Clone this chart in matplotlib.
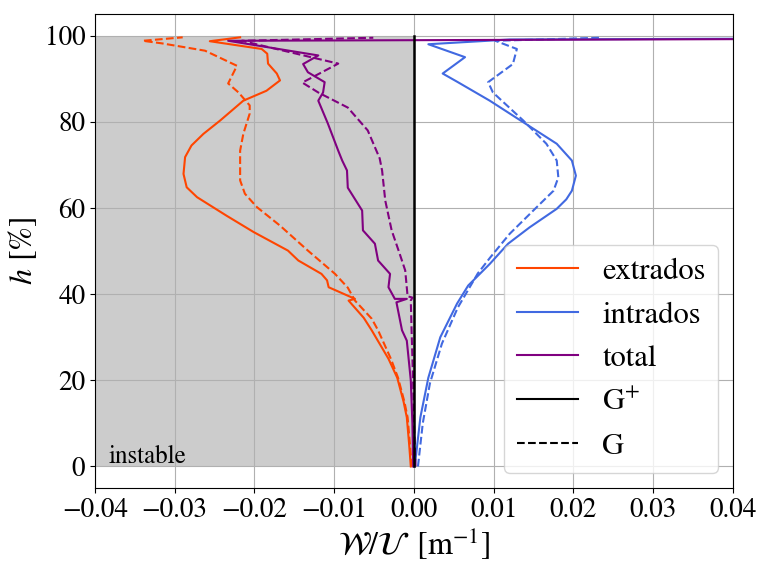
import matplotlib
matplotlib.use("Agg")
import matplotlib.pyplot as plt
from matplotlib.lines import Line2D

plt.rcParams['font.family'] = ['STIXGeneral', 'DejaVu Serif']
plt.rcParams['mathtext.fontset'] = 'stix'

# extrados, G+ (solid)
ext_gp_h = [0, 5, 11.4, 15, 20.6, 25, 31.6, 34.5, 38.5, 38.9, 41.6, 43.2, 44.7, 47.8, 50.1, 51.7, 54.4,
            58.2, 62.5, 64.8, 67.9, 71.8, 74.5, 77.2, 80.3, 84.9, 87.2, 89.6, 91.2, 93.5, 95.8, 96.9,
            98.7, 99.6]
ext_gp_x = [-0.0004, -0.0006, -0.0009, -0.0013, -0.0021, -0.0032, -0.0053, -0.0063, -0.0082, -0.0074,
            -0.0107, -0.0109, -0.0116, -0.0145, -0.0158, -0.0174, -0.0201, -0.0235, -0.0272, -0.0285,
            -0.0289, -0.0287, -0.0279, -0.0264, -0.0243, -0.0214, -0.0185, -0.0168, -0.0172, -0.0183,
            -0.0184, -0.0191, -0.0256, -0.0218]
# extrados, G (dashed)
ext_g_h = [0, 5, 11.4, 15, 20.6, 25, 31.6, 34.3, 38.5, 41.5, 44.7, 50.1, 55.9, 60.2, 63.3, 66.4, 73.3,
           77.2, 81.9, 83.8, 86.8, 88.9, 93.0, 96.5, 98.2, 98.8, 99.6]
ext_g_x = [-0.0003, -0.0005, -0.0008, -0.0012, -0.0020, -0.0029, -0.0045, -0.0053, -0.0074, -0.0083,
           -0.0099, -0.0133, -0.0168, -0.0197, -0.0212, -0.0218, -0.0218, -0.0214, -0.0206, -0.0206,
           -0.0220, -0.0233, -0.0222, -0.0262, -0.0316, -0.0340, -0.0290]
# intrados, G+ (solid)
int_gp_h = [0, 11.4, 20.6, 30.0, 37.8, 42, 47.0, 51.7, 55.5, 59.8, 62.0, 64.0, 67.5, 71.0, 74.9, 79.9,
            84.9, 89.2, 91.2, 95.0, 98.0, 99.1, 99.4]
int_gp_x = [0.0001, 0.0008, 0.0018, 0.0033, 0.0054, 0.0068, 0.0095, 0.0118, 0.0145, 0.0179, 0.0191,
            0.0198, 0.0203, 0.0198, 0.0179, 0.0137, 0.0095, 0.0055, 0.0036, 0.0064, 0.0018, 0.0120, 0.0600]
# intrados, G (dashed)
int_g_h = [0, 10, 19.3, 28.5, 36.9, 44.8, 48.6, 54.0, 60.2, 64.0, 67.1, 71.0, 74.9, 80.3, 86.8, 89.2,
           93.4, 96.9, 98.8, 99.5]
int_g_x = [0.0005, 0.0011, 0.0020, 0.0035, 0.0055, 0.0080, 0.0096, 0.0120, 0.0154, 0.0175, 0.0181,
           0.0179, 0.0166, 0.0137, 0.0099, 0.0093, 0.0124, 0.0129, 0.0102, 0.0233]
# total, G+ (solid)
tot_gp_h = [0, 10, 20, 29.2, 31.6, 38.1, 38.9, 38.9, 41.6, 44.7, 47.8, 51.7, 54.8, 59.4, 64.7, 68.7,
            71.0, 73.3, 79.6, 84.9, 86.8, 89.2, 91.5, 93.4, 95.4, 98.8, 99.3]
tot_gp_x = [-0.0001, -0.0002, -0.0004, -0.0009, -0.0015, -0.0022, -0.0009, -0.0024, -0.0032, -0.0030,
            -0.0045, -0.0049, -0.0064, -0.0065, -0.0083, -0.0084, -0.0090, -0.0095, -0.0108, -0.0120,
            -0.0114, -0.0112, -0.0133, -0.0139, -0.0120, -0.0233, 0.0600]
# total, G (dashed)
tot_g_h = [0, 10, 19, 31.6, 38.5, 39.2, 39.5, 45.5, 49.4, 54.8, 61.7, 68.7, 71.5, 78.0, 83.3, 86.8,
           89.1, 93.5, 98.8, 99.5]
tot_g_x = [0.0002, 0.0000, -0.0001, -0.0003, -0.0004, -0.0002, -0.0008, -0.0011, -0.0018, -0.0028,
           -0.0036, -0.0040, -0.0043, -0.0058, -0.0083, -0.0120, -0.0140, -0.0095, -0.0216, -0.0051]

labels = ['extrados', 'intrados', 'total', r'G$^{+}$', 'G']
c_ext, c_int, c_tot = 'orangered', 'royalblue', 'purple'

fig = plt.figure(figsize=(7.58, 5.63), dpi=100)
ax = fig.add_axes([0.1253, 0.1332, 0.8417, 0.8418])

ax.fill_betweenx([0, 100], -0.04, 0, color='#cccccc', zorder=0.2, lw=0)
ax.set_axisbelow(True)
ax.grid(True, color='#b0b0b0', lw=0.8)

lw = 1.5
ax.plot(ext_gp_x, ext_gp_h, color=c_ext, lw=lw)
ax.plot(ext_g_x, ext_g_h, color=c_ext, lw=lw, ls='--')
ax.plot(int_gp_x, int_gp_h, color=c_int, lw=lw)
ax.plot(int_g_x, int_g_h, color=c_int, lw=lw, ls='--')
ax.plot(tot_gp_x, tot_gp_h, color=c_tot, lw=lw)
ax.plot(tot_g_x, tot_g_h, color=c_tot, lw=lw, ls='--')
ax.plot([0, 0], [0, 100], color='black', lw=1.8, zorder=3)

ax.set_xlim(-0.04, 0.04)
ax.set_ylim(-5, 105)
ax.set_xticks([-0.04, -0.03, -0.02, -0.01, 0.0, 0.01, 0.02, 0.03, 0.04])
ax.set_yticks([0, 20, 40, 60, 80, 100])
ax.tick_params(labelsize=19.5)
ax.set_xlabel(r'$\mathcal{W}/\mathcal{U}\;\;[\mathrm{m}^{-1}]$', fontsize=23, labelpad=2)
ax.set_ylabel(r'$h$ [%]', fontsize=23, labelpad=4)
ax.text(-0.0383, -0.6, 'instable', fontsize=18, ha='left', va='bottom')

handles = [Line2D([], [], color=c_ext, lw=lw), Line2D([], [], color=c_int, lw=lw),
           Line2D([], [], color=c_tot, lw=lw), Line2D([], [], color='black', lw=lw),
           Line2D([], [], color='black', lw=lw, ls='--')]
ax.legend(handles, labels, loc='lower right', fontsize=22, handlelength=2.0)

fig.savefig('out.png', dpi=100)
